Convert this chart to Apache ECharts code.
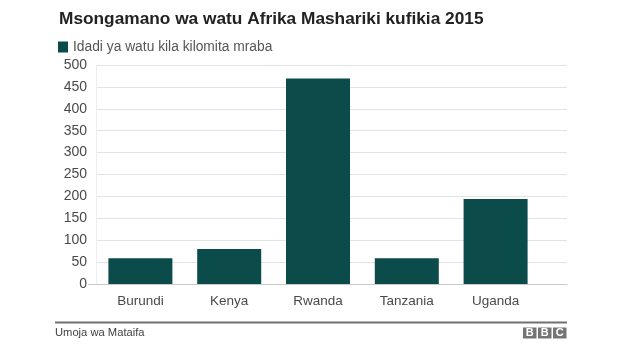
<!DOCTYPE html>
<html>
<head>
<meta charset="utf-8">
<script src="https://cdn.jsdelivr.net/npm/echarts@6/dist/echarts.min.js"></script>
<style>html,body{margin:0;padding:0;background:#fff;}#c{width:624px;height:351px;}</style>
</head>
<body>
<div id="c"></div>
<script>
var titleText = 'Msongamano wa watu Afrika Mashariki kufikia 2015';
var seriesName = 'Idadi ya watu kila kilomita mraba';
var categories = ['Burundi', 'Kenya', 'Rwanda', 'Tanzania', 'Uganda'];
var density = [59, 80, 469, 59, 194];
var yTicks = { min: 0, max: 500, interval: 50 };
var sourceText = 'Umoja wa Mataifa';

var FONT = '"Liberation Sans", Arial, Helvetica, sans-serif';
var BAR = '#0b4b4a';
var chart = echarts.init(document.getElementById('c'), null, { renderer: 'canvas' });
var bbc = ['B', 'B', 'C'];
var graphics = [
  { type: 'line', shape: { x1: 55, y1: 322.5, x2: 567, y2: 322.5 }, style: { stroke: '#707070', lineWidth: 2 } },
  { type: 'line', shape: { x1: 88, y1: 284.5, x2: 96, y2: 284.5 }, style: { stroke: '#c8c8c8', lineWidth: 1 } },
  { type: 'text', left: 55, top: 327, style: { text: sourceText, fill: '#404040', font: '11.2px ' + FONT } }
];
bbc.forEach(function (ch, i) {
  graphics.push({ type: 'rect', shape: { x: 523 + i * 15, y: 327.5, width: 13.5, height: 11 }, style: { fill: '#757575' } });
  graphics.push({ type: 'text', x: 523 + i * 15 + 6.75, y: 333.3, style: { text: ch, fill: '#fff', font: 'bold 11px ' + FONT, align: 'center', verticalAlign: 'middle' } });
});

chart.setOption({
  animation: false,
  title: { text: titleText, left: 54, top: 6, textStyle: { fontFamily: FONT, fontSize: 17.3, fontWeight: 'bold', color: '#222' } },
  legend: {
    left: 53, top: 35, itemWidth: 10, itemHeight: 11, itemGap: 10, icon: 'rect',
    textStyle: { fontFamily: FONT, fontSize: 13.8, color: '#555', padding: [0, 0, 0, 0] },
    data: [seriesName]
  },
  grid: [
    { left: 96, right: 57, top: 65, bottom: 67 },
    { left: 96, width: 444, top: 65, bottom: 67 }
  ],
  xAxis: [
    { gridIndex: 0, type: 'category', data: [''], axisLine: { show: true, lineStyle: { color: '#c8c8c8' } }, axisTick: { show: false }, axisLabel: { show: false }, splitLine: { show: false } },
    { gridIndex: 1, type: 'category', data: categories, axisLine: { show: false }, axisTick: { show: false },
      axisLabel: { fontFamily: FONT, fontSize: 13.5, color: '#4a4a4a', margin: 10 } }
  ],
  yAxis: [
    { gridIndex: 0, type: 'value', min: yTicks.min, max: yTicks.max, interval: yTicks.interval,
      axisLine: { show: true, lineStyle: { color: '#eeeeee' } }, axisTick: { show: false },
      axisLabel: { fontFamily: FONT, fontSize: 14, color: '#4a4a4a', margin: 9 },
      splitLine: { lineStyle: { color: '#e3e3e3' } } },
    { gridIndex: 1, type: 'value', min: yTicks.min, max: yTicks.max, interval: yTicks.interval, show: false, splitLine: { show: false } }
  ],
  series: [
    { name: seriesName, type: 'bar', xAxisIndex: 1, yAxisIndex: 1, data: density, barWidth: 64, itemStyle: { color: BAR } }
  ],
  graphic: graphics
});
</script>
</body>
</html>
